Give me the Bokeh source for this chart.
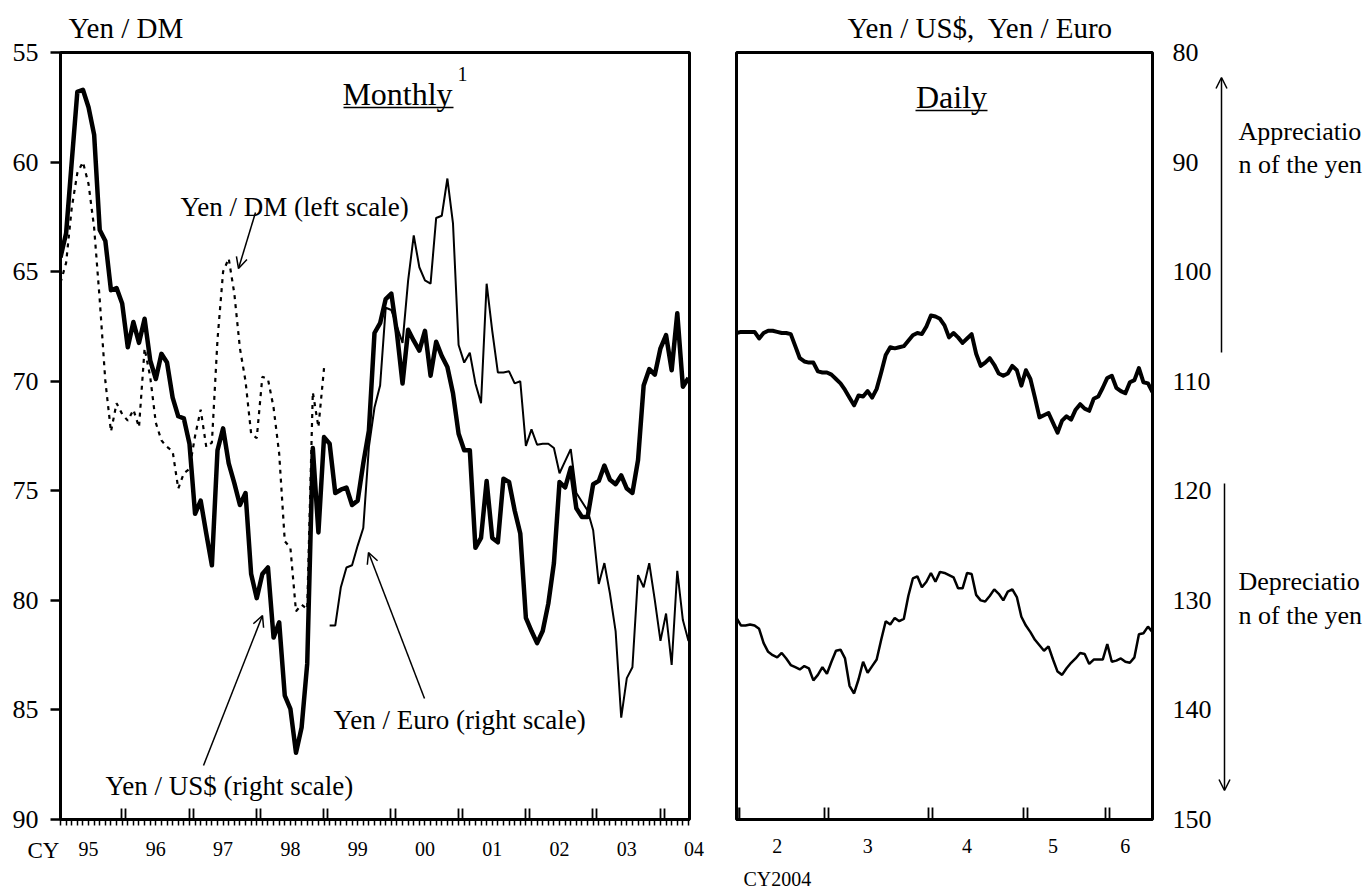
from bokeh.plotting import figure
from bokeh.models import Range1d, LinearAxis, FixedTicker, Label, Arrow, OpenHead
from bokeh.layouts import row, column
from bokeh.embed import file_html
from bokeh.resources import INLINE

FONT = "Liberation Serif"

# ---------------- data ----------------
# Monthly, end-of-month, index 0 = Jan 1995
usd_monthly = [98.7, 96.5, 90.0, 83.6, 83.4, 85.0, 87.5, 96.2, 97.2, 101.7,
               101.5, 102.9, 106.9, 104.6, 106.5, 104.3, 108.1, 109.8, 107.5, 108.3,
               111.5, 113.2, 113.4, 115.7, 122.1, 120.9, 123.9, 126.8, 116.3, 114.3,
               117.5, 119.3, 121.3, 120.2, 127.6, 129.8, 127.6, 127.0, 133.4, 132.0,
               138.7, 139.9, 143.9, 141.6, 135.8, 116.1, 123.8, 115.1, 115.7, 120.2,
               119.9, 119.7, 121.3, 120.9, 117.5, 114.5, 105.6, 104.7, 102.5, 102.0,
               105.6, 110.2, 105.3, 106.3, 107.2, 105.4, 109.5, 106.4, 107.7, 108.7,
               111.1, 114.8, 116.3, 116.3, 125.2, 124.3, 119.1, 124.3, 124.7, 118.9,
               119.2, 121.8, 123.9, 131.6, 132.8, 133.9, 132.8, 130.3, 126.6, 119.2,
               119.7, 117.9, 121.6, 122.4, 122.4, 119.4, 119.1, 117.7, 119.0, 119.4,
               118.6, 119.8, 120.2, 117.2, 110.4, 108.9, 109.4, 107.0, 105.8, 109.0,
               103.8, 110.5, 109.7]
# Yen / Euro from Jan 1999 (month index 48)
euro_start = 48
euro_monthly = [132.3, 132.3, 128.8, 127.0, 126.8, 125.0, 123.4, 116.0, 112.4, 110.4,
                103.3, 103.5, 105.0, 106.5, 100.8, 96.7, 99.6, 100.8, 101.1, 95.1,
                94.9, 91.5, 95.6, 106.7, 108.3, 107.4, 110.2, 112.0, 101.1, 105.4,
                109.2, 109.2, 109.1, 110.2, 110.0, 115.9, 114.4, 115.8, 115.7, 115.7,
                116.1, 118.4, 117.3, 116.2, 120.2, 121.0, 121.8, 123.6, 128.5, 126.6,
                129.4, 132.8, 140.7, 137.1, 136.1, 127.7, 128.8, 126.6, 130.0, 133.7,
                131.2, 135.9, 127.3, 131.8, 133.7]
# Yen / DM, Jan 1995 - Dec 1998 (left scale)
dm_monthly = [65.5, 64.6, 62.1, 60.5, 60.0, 61.0, 63.0, 66.3, 70.0, 72.3,
              71.0, 71.5, 71.8, 71.3, 72.1, 68.5, 69.8, 71.9, 72.7, 73.0,
              73.2, 74.9, 74.2, 74.0, 72.5, 71.3, 73.0, 72.8, 68.1, 65.0,
              64.4, 66.0, 68.5, 70.0, 72.4, 72.6, 69.8, 69.9, 71.2, 73.3,
              77.3, 77.6, 80.5, 80.2, 80.4, 70.5, 72.1, 69.4]

# Daily, business days from early Feb 2004 to mid Jun 2004
usd_daily = [105.6, 105.5, 105.5, 105.5, 105.5, 106.1, 105.6, 105.4, 105.4, 105.5,
             105.6, 105.6, 105.7, 106.8, 107.9, 108.2, 108.3, 108.3, 109.1, 109.2,
             109.2, 109.4, 109.8, 110.2, 110.8, 111.5, 112.2, 111.3, 111.4, 110.9,
             111.5, 110.7, 109.2, 107.6, 106.9, 107.0, 106.9, 106.8, 106.3, 105.8,
             105.6, 105.7, 105.0, 104.0, 104.1, 104.3, 104.9, 106.0, 105.6, 106.0,
             106.5, 106.1, 105.7, 107.5, 108.6, 108.3, 107.9, 108.5, 109.3, 109.5,
             109.3, 108.6, 109.0, 110.4, 109.0, 109.8, 111.5, 113.3, 113.1, 112.9,
             113.8, 114.7, 113.6, 113.2, 113.5, 112.6, 112.1, 112.5, 112.7, 111.6,
             111.4, 110.6, 109.7, 109.5, 110.6, 110.9, 111.1, 110.1, 109.9, 108.8,
             110.1, 110.2, 111.0]
euro_daily = [131.6, 132.3, 132.3, 132.2, 132.3, 132.6, 133.9, 134.7, 135.0, 135.2,
              134.8, 135.3, 135.9, 136.1, 136.3, 136.0, 136.2, 137.3, 136.8, 136.1,
              136.7, 135.6, 134.6, 134.5, 135.3, 137.8, 138.5, 137.2, 135.6, 136.6,
              136.0, 135.4, 133.6, 131.9, 132.2, 131.6, 131.9, 131.7, 129.6, 128.0,
              127.8, 128.8, 128.3, 127.5, 128.3, 127.4, 127.5, 127.7, 127.9, 128.9,
              128.9, 127.5, 127.6, 129.5, 130.0, 130.1, 129.6, 129.0, 129.4, 130.0,
              129.2, 129.0, 129.7, 131.5, 132.3, 132.9, 133.6, 134.1, 134.6, 134.2,
              135.4, 136.5, 136.8, 136.2, 135.7, 135.3, 134.8, 134.9, 135.8, 135.4,
              135.4, 135.4, 134.0, 135.6, 135.5, 135.3, 135.6, 135.7, 135.2, 133.1,
              133.0, 132.4, 132.9]

year_labels = ["95", "96", "97", "98", "99", "00", "01", "02", "03", "04"]
month_labels_2004 = ["2", "3", "4", "5", "6"]
month_start_days_2004 = [20, 43, 64, 82]        # business-day index of Mar 1, Apr 1, May 1, Jun 1
month_label_days_2004 = [9, 29, 51, 70, 86]
dm_ticks = [55, 60, 65, 70, 75, 80, 85, 90]
yen_ticks = [80, 90, 100, 110, 120, 130, 140, 150]

months = list(range(len(usd_monthly)))
euro_months = [euro_start + i for i in range(len(euro_monthly))]
dm_months = list(range(len(dm_monthly)))
days = list(range(len(usd_daily)))

# ---------------- geometry (page pixels) ----------------
PAGE_W = 1364
PAGE_H = 890
FT, FH = 52, 767           # frame top, frame height
FB = FT + FH               # frame bottom (819)
MAIN_H = 834               # panel canvas height; strip with time labels below
L1, W1 = 60, 629           # left panel frame
L2, W2 = 736, 416          # right panel frame
P1_W = 709                 # canvas width of left panel
P2_R = 60                  # right border of right panel (axis labels)
P3_X = L2 + W2 + P2_R      # start of the strip right of the panels
X1 = (0, 112.18)
X2 = (0, 92)
DM_R = (55, 90)
YEN_R = (80, 150)
k1 = (X1[1] - X1[0]) / W1
k2 = (X2[1] - X2[0]) / W2


def to1(px, py):
    return (X1[0] + (px - L1) * k1, DM_R[0] + (py - FT) / FH * (DM_R[1] - DM_R[0]))


def to2(px, py):
    return (X2[0] + (px - L2) * k2, YEN_R[0] + (py - FT) / FH * (YEN_R[1] - YEN_R[0]))


def ident(px, py):
    return px, py


def label(p, conv, px, py, text, size="27px", align="left", **kw):
    x, y = conv(px, py)
    p.add_layout(Label(x=x, y=y, text=text, text_font=FONT, text_font_size=size,
                       text_align=align, text_baseline="middle", text_color="black", **kw))


def arrow(p, conv, p0, p1, head=True, width=1.5):
    x0, y0 = conv(*p0)
    x1, y1 = conv(*p1)
    end = OpenHead(size=11, line_width=width, line_color="black") if head else None
    p.add_layout(Arrow(end=end, x_start=x0, y_start=y0, x_end=x1, y_end=y1,
                       line_width=width, line_color="black"))


def style_panel(p, title, offset):
    p.grid.visible = False
    p.outline_line_color = "black"
    p.outline_line_width = 3
    p.background_fill_color = "white"
    p.border_fill_color = "white"
    p.title.text = title
    p.title.align = "left"
    p.title.offset = offset
    p.title.standoff = 17
    p.title.text_font = FONT
    p.title.text_font_size = "29px"
    p.title.text_font_style = "normal"
    p.title.text_color = "black"


def blank(width, height, xr, yr):
    p = figure(width=width, height=height, x_range=xr, y_range=yr,
               min_border_left=0, min_border_right=0, min_border_top=0, min_border_bottom=0,
               x_axis_location=None, y_axis_location=None,
               toolbar_location=None, output_backend="svg")
    p.grid.visible = False
    p.outline_line_color = None
    p.background_fill_color = "white"
    p.border_fill_color = "white"
    return p


# ---------------- left panel (monthly) ----------------
p1 = figure(frame_width=W1, frame_height=FH, min_border_left=L1, min_border_right=P1_W - L1 - W1,
            min_border_top=FT, min_border_bottom=MAIN_H - FB,
            x_range=Range1d(*X1), y_range=Range1d(DM_R[1], DM_R[0]),
            x_axis_location=None, toolbar_location=None, output_backend="svg")
style_panel(p1, "Yen / DM", 68 - L1)
p1.extra_y_ranges = {"yen": Range1d(YEN_R[1], YEN_R[0])}

ya = p1.yaxis[0]
ya.ticker = FixedTicker(ticks=dm_ticks)
ya.major_tick_out = 10
ya.major_tick_in = 0
ya.minor_tick_out = 0
ya.minor_tick_in = 0
ya.axis_line_width = 3
ya.major_tick_line_width = 2.5
ya.major_label_text_font = FONT
ya.major_label_text_font_size = "26px"
ya.major_label_text_color = "black"
ya.major_label_standoff = 12

jan_ticks = []
for i in range(1, len(year_labels)):
    b = 12 * i - 0.7
    jan_ticks += [b - 0.36, b + 0.36]
xa = LinearAxis(ticker=FixedTicker(ticks=jan_ticks, minor_ticks=months),
                major_label_overrides={t: "" for t in jan_ticks})
xa.major_tick_in = 11
xa.major_tick_out = 0
xa.major_tick_line_width = 1.8
xa.minor_tick_in = 0
xa.minor_tick_out = 6
xa.minor_tick_line_width = 1.5
xa.axis_line_width = 3
xa.major_label_text_font_size = "1px"
xa.major_label_standoff = 0
p1.add_layout(xa, "below")

p1.line(dm_months, dm_monthly, line_color="black", line_width=2.2, line_dash="4 5")
p1.line(euro_months, euro_monthly, y_range_name="yen", line_color="black", line_width=2)
p1.line(months, usd_monthly, y_range_name="yen", line_color="black", line_width=4.5,
        line_join="round")

label(p1, to1, 397, 93, "Monthly", size="32px", align="center")
label(p1, to1, 462, 73, "1", size="20px", align="center")
arrow(p1, to1, (343, 107), (453, 107), head=False, width=1.5)
label(p1, to1, 180, 206, "Yen / DM (left scale)")
label(p1, to1, 105, 785, "Yen / US$ (right scale)")
label(p1, to1, 333, 719, "Yen / Euro (right scale)")
arrow(p1, to1, (255, 212), (238, 268))
arrow(p1, to1, (203, 765), (262, 615))
arrow(p1, to1, (424, 698), (368, 552))

# ---------------- right panel (daily) ----------------
p2 = figure(frame_width=W2, frame_height=FH, min_border_left=L2 - P1_W, min_border_right=P2_R,
            min_border_top=FT, min_border_bottom=MAIN_H - FB,
            x_range=Range1d(*X2), y_range=Range1d(YEN_R[1], YEN_R[0]),
            x_axis_location=None, y_axis_location="right",
            toolbar_location=None, output_backend="svg")
style_panel(p2, "Yen / US$,\u00a0 Yen / Euro", 847 - L2)

ra = p2.yaxis[0]
ra.ticker = FixedTicker(ticks=yen_ticks)
ra.major_tick_out = 0
ra.major_tick_in = 0
ra.minor_tick_out = 0
ra.minor_tick_in = 0
ra.axis_line_color = None
ra.major_label_text_font = FONT
ra.major_label_text_font_size = "26px"
ra.major_label_text_color = "black"
ra.major_label_standoff = 20

m_ticks = [X2[0] + 1.0 * k2, X2[0] + 2.5 * k2]
for s in month_start_days_2004:
    m_ticks += [s - 2 * k2, s + 2 * k2]
xb = LinearAxis(ticker=FixedTicker(ticks=m_ticks, minor_ticks=[]),
                major_label_overrides={t: "" for t in m_ticks})
xb.major_tick_in = 12
xb.major_tick_out = 0
xb.major_tick_line_width = 1.8
xb.minor_tick_in = 0
xb.minor_tick_out = 0
xb.axis_line_width = 3
xb.major_label_text_font_size = "1px"
xb.major_label_standoff = 0
p2.add_layout(xb, "below")

p2.line(days, euro_daily, line_color="black", line_width=2.5)
p2.line(days, usd_daily, line_color="black", line_width=4, line_join="round")

label(p2, to2, 951, 96, "Daily", size="32px", align="center")
arrow(p2, to2, (915, 110), (987, 110), head=False, width=1.5)

# ---------------- strip under both panels: time labels ----------------
bottom = blank(P3_X, PAGE_H - MAIN_H, Range1d(0, P3_X), Range1d(PAGE_H, MAIN_H))
bottom.extra_x_ranges = {
    "monthly": Range1d(X1[0] - L1 * k1, X1[0] + (P3_X - L1) * k1),
    "daily": Range1d(X2[0] - L2 * k2, X2[0] + (P3_X - L2) * k2),
}
label(bottom, ident, 27, 850, "CY", size="23px")
for i, lab in enumerate(year_labels):
    bottom.add_layout(Label(x=12 * i + 5, y=848.5, x_range_name="monthly", text=lab,
                            text_font=FONT, text_font_size="20px", text_align="center",
                            text_baseline="middle", text_color="black"))
for pos, lab in zip(month_label_days_2004, month_labels_2004):
    bottom.add_layout(Label(x=pos, y=845.5, x_range_name="daily", text=lab,
                            text_font=FONT, text_font_size="20px", text_align="center",
                            text_baseline="middle", text_color="black"))
label(bottom, ident, 743, 878, "CY2004", size="20px")

# ---------------- strip right of the panels ----------------
p3 = blank(PAGE_W - P3_X, PAGE_H, Range1d(P3_X, PAGE_W), Range1d(PAGE_H, 0))
label(p3, ident, 1236, 131, "Appreciatio", size="26px")
label(p3, ident, 1236, 164, "n of the yen", size="26px")
label(p3, ident, 1236, 581, "Depreciatio", size="26px")
label(p3, ident, 1236, 615, "n of the yen", size="26px")
arrow(p3, ident, (1219, 352), (1219, 77))
arrow(p3, ident, (1222, 483), (1222, 790))

layout = row(column(row(p1, p2), bottom), p3)
open("out.html", "w").write(file_html(layout, INLINE))
